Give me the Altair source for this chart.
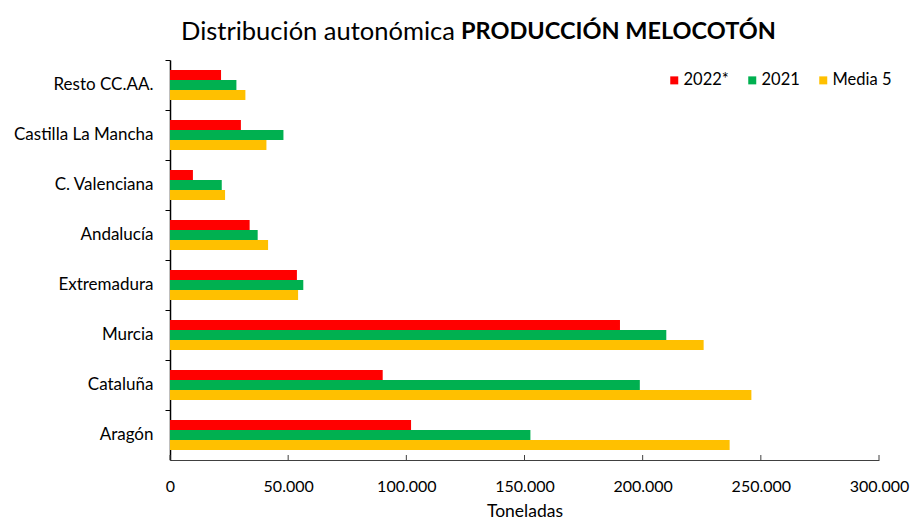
import altair as alt
import pandas as pd

# ---- data ----
regions = ["Resto CC.AA.", "Castilla La Mancha", "C. Valenciana", "Andalucía",
           "Extremadura", "Murcia", "Cataluña", "Aragón"]
series = ["2022*", "2021", "Media 5"]
v2022 = [21600, 30000, 9700, 33700, 53700, 190400, 90000, 102000]
v2021 = [28100, 48000, 21900, 37100, 56400, 210000, 198800, 152500]
media5 = [31900, 40800, 23300, 41500, 54200, 225800, 246000, 236800]
colors = ["#FF0000", "#00B050", "#FFC000"]
x_ticks = [0, 50000, 100000, 150000, 200000, 250000, 300000]
title_regular = "Distribución autonómica"
title_bold = "PRODUCCIÓN MELOCOTÓN"
x_title = "Toneladas"

FONT = "Lato"

rows = []
for s, vals in zip(series, [v2022, v2021, media5]):
    for r, v in zip(regions, vals):
        rows.append({"region": r, "serie": s, "valor": v})
df = pd.DataFrame(rows)
ticks_df = pd.DataFrame({"valor": x_ticks})

W, H = 709, 400

x_enc = alt.X(
    "valor:Q",
    scale=alt.Scale(domain=[0, 300000], nice=False, zero=True),
    axis=alt.Axis(
        values=x_ticks,
        labelExpr="replace(format(datum.value, ','), ',', '.')",
        title=x_title,
        grid=False,
        ticks=False,
        tickSize=0,
        labelFlush=False,
        domainColor="#404040",
        domainWidth=1,
        labelPadding=18,
        labelFontSize=16,
        labelFont=FONT,
        labelColor="#000000",
        titleFont=FONT,
        titleFontSize=17.5,
        titleFontWeight="normal",
        titleColor="#000000",
        titlePadding=8,
    ),
)

bars = alt.Chart(df).mark_bar().encode(
    x=x_enc,
    y=alt.Y(
        "region:N",
        sort=regions,
        scale=alt.Scale(paddingInner=0, paddingOuter=0),
        axis=alt.Axis(
            title=None,
            bandPosition=0,
            tickSize=5,
            tickColor="#000000",
            domainColor="#000000",
            domainWidth=1.5,
            labelPadding=12,
            labelFontSize=17,
            labelFont=FONT,
            labelColor="#000000",
        ),
    ),
    yOffset=alt.YOffset("serie:N", sort=series,
                        scale=alt.Scale(paddingInner=0, paddingOuter=1)),
    color=alt.Color(
        "serie:N",
        sort=series,
        scale=alt.Scale(domain=series, range=colors),
        legend=alt.Legend(
            title=None,
            orient="none",
            legendX=496,
            legendY=12,
            direction="horizontal",
            symbolType="square",
            symbolSize=64,
            symbolStrokeWidth=0,
            labelFontSize=16.5,
            labelFont=FONT,
            labelColor="#000000",
            labelOffset=1,
            columnPadding=15,
            padding=0,
        ),
    ),
)

tick_marks = alt.Chart(ticks_df).mark_rule(color="#404040", strokeWidth=1).encode(
    x="valor:Q",
    y=alt.value(H),
    y2=alt.value(H - 5),
)

t1 = alt.Chart(pd.DataFrame({"t": [title_regular]})).mark_text(
    font=FONT, fontSize=25.5, align="left", baseline="middle", color="#000000"
).encode(text="t:N", x=alt.value(11), y=alt.value(-28))

t2 = alt.Chart(pd.DataFrame({"t": [title_bold]})).mark_text(
    font=FONT, fontSize=23.5, fontWeight="bold", align="left", baseline="middle", color="#000000"
).encode(text="t:N", x=alt.value(291), y=alt.value(-28))

chart = alt.layer(bars, tick_marks, t1, t2).properties(
    width=W,
    height=H,
    background="#FFFFFF",
    autosize=alt.AutoSizeParams(type="none"),
    padding={"left": 162, "top": 52, "right": 35, "bottom": 64},
).configure_view(stroke=None, strokeWidth=0)

chart.save("out.html", embed_options={"renderer": "svg", "actions": False})
